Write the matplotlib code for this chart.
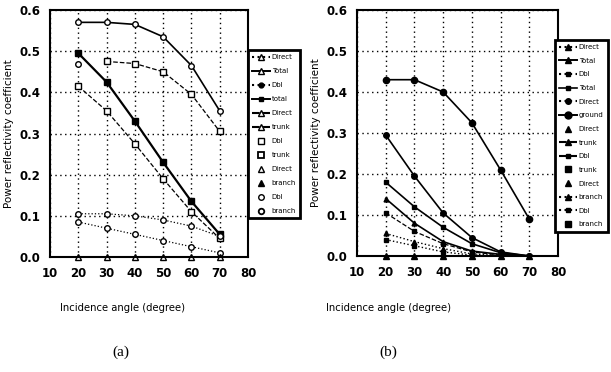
import numpy as np
import matplotlib
matplotlib.use('Agg')
import matplotlib.pyplot as plt
from matplotlib.lines import Line2D

# ── data ──
angles = [20, 30, 40, 50, 60, 70]

# panel (a)
a_top     = [0.570, 0.570, 0.565, 0.535, 0.465, 0.355]
a_dash_hi = [0.470, 0.475, 0.470, 0.450, 0.395, 0.305]
a_thick   = [0.495, 0.425, 0.330, 0.230, 0.135, 0.055]
a_dash_lo = [0.415, 0.355, 0.275, 0.190, 0.110, 0.045]
a_dot_hi  = [0.105, 0.105, 0.100, 0.090, 0.075, 0.050]
a_dot_lo  = [0.085, 0.070, 0.055, 0.040, 0.025, 0.010]
a_zero    = [0.0, 0.0, 0.0, 0.0, 0.0, 0.0]

# panel (b)
b_ground  = [0.430, 0.430, 0.400, 0.325, 0.210, 0.090]
b_total   = [0.295, 0.195, 0.105, 0.045, 0.010, 0.000]
b_dbl     = [0.180, 0.120, 0.070, 0.030, 0.008, 0.000]
b_trunk   = [0.140, 0.080, 0.035, 0.012, 0.004, 0.000]
b_dbltr   = [0.105, 0.060, 0.030, 0.010, 0.002, 0.000]
b_branch  = [0.055, 0.035, 0.018, 0.005, 0.001, 0.000]
b_dblbr   = [0.040, 0.025, 0.010, 0.002, 0.000, 0.000]
b_zero    = [0.0, 0.0, 0.0, 0.0, 0.0, 0.0]

legend_a = ['Direct', 'Total', 'Dbl', 'total', 'Direct', 'trunk',
            'Dbl', 'trunk', 'Direct', 'branch', 'Dbl', 'branch']
legend_b = ['Direct', 'Total', 'Dbl', 'Total', 'Direct', 'ground',
            'Direct', 'trunk', 'Dbl', 'trunk', 'Direct', 'branch', 'Dbl', 'branch']

fig = plt.figure(figsize=(6.11, 3.72), dpi=100)
ax_a = fig.add_axes([50/611, 1-257/372, 198/611, 247/372])
ax_b = fig.add_axes([357/611, 1-256/372, 201/611, 246/372])

k = dict(color='black')

# ── panel (a) ──
ax_a.plot(angles, a_top, '-', lw=1.2, marker='o', ms=4, mfc='white', **k)
ax_a.plot(angles[1:], a_dash_hi[1:], '--', lw=0.9, marker='s', ms=4, mfc='white', **k)
ax_a.plot(angles[:1], a_dash_hi[:1], 'o', ms=4, mfc='white', **k)
ax_a.plot(angles, a_thick, '-', lw=1.6, marker='s', ms=4, **k)
ax_a.plot(angles, a_dash_lo, '--', lw=0.9, marker='s', ms=4, mfc='white', **k)
ax_a.plot(angles, a_dot_hi, ':', lw=0.9, marker='o', ms=4, mfc='white', **k)
ax_a.plot(angles, a_dot_lo, ':', lw=0.9, marker='o', ms=4, mfc='white', **k)
ax_a.plot(angles, a_zero, '^', ms=4, mfc='white', clip_on=False, **k)

# ── panel (b) ──
ax_b.plot(angles, b_ground, '-', lw=1.2, marker='o', ms=4.5, **k)
ax_b.plot(angles, b_total, '-', lw=1.2, marker='o', ms=4, **k)
ax_b.plot(angles, b_dbl, '-', lw=1.2, marker='s', ms=3.5, **k)
ax_b.plot(angles, b_trunk, '-', lw=1.2, marker='^', ms=3.5, **k)
ax_b.plot(angles, b_dbltr, '--', lw=0.9, marker='s', ms=3.5, **k)
ax_b.plot(angles, b_branch, ':', lw=1.0, marker='^', ms=3.5, **k)
ax_b.plot(angles, b_dblbr, ':', lw=1.0, marker='s', ms=3.5, **k)
ax_b.plot(angles, b_zero, '^', ms=4, clip_on=False, **k)

for ax in (ax_a, ax_b):
    ax.set_xlim(10, 80)
    ax.set_ylim(0, 0.6)
    ax.set_xticks(range(10, 81, 10))
    ax.set_yticks(np.arange(0, 0.61, 0.1))
    ax.set_yticklabels([f'{v:.1f}' for v in np.arange(0, 0.61, 0.1)])
    ax.grid(True, color='black', linestyle=(0, (1, 2.5)), linewidth=1.0)
    ax.tick_params(length=0, pad=7, labelsize=8.5)
    for lab in ax.get_xticklabels() + ax.get_yticklabels():
        lab.set_fontweight('bold')
    for s in ax.spines.values():
        s.set_linewidth(1.5)
    ax.set_ylabel('Power reflectivity coefficient', fontsize=7.5, labelpad=4)

# ── legends (one handle per line of label text) ──
h_a = [
    Line2D([], [], ls=':', marker='^', mfc='white', ms=4, **k),
    Line2D([], [], ls='-', lw=1.4, marker='^', mfc='white', ms=4, **k),
    Line2D([], [], ls=':', marker='o', ms=3.5, **k),
    Line2D([], [], ls='-', lw=1.4, marker='s', ms=3.5, **k),
    Line2D([], [], ls='--', marker='^', mfc='white', ms=4, **k),
    Line2D([], [], ls='--', marker='^', mfc='white', ms=4, **k),
    Line2D([], [], ls='none', marker='s', mfc='white', ms=4, **k),
    Line2D([], [], ls='none', marker='s', mfc='white', ms=4, mew=1.3, **k),
    Line2D([], [], ls='none', marker='^', mfc='white', ms=4, **k),
    Line2D([], [], ls='none', marker='^', ms=4, **k),
    Line2D([], [], ls='none', marker='o', mfc='white', ms=4, **k),
    Line2D([], [], ls='none', marker='o', mfc='white', ms=4, mew=1.3, **k),
]
h_b = [
    Line2D([], [], ls=':', marker='^', ms=4, **k),
    Line2D([], [], ls='-', lw=1.4, marker='^', ms=4, **k),
    Line2D([], [], ls=':', marker='s', ms=3.5, **k),
    Line2D([], [], ls='-', lw=1.2, marker='s', ms=3.5, **k),
    Line2D([], [], ls=':', marker='o', ms=4, **k),
    Line2D([], [], ls='-', lw=1.4, marker='o', ms=5, **k),
    Line2D([], [], ls='none', marker='^', ms=4, **k),
    Line2D([], [], ls='--', marker='^', ms=4.5, **k),
    Line2D([], [], ls='--', marker='s', ms=3.5, **k),
    Line2D([], [], ls='none', marker='s', ms=4, **k),
    Line2D([], [], ls='none', marker='^', ms=4, **k),
    Line2D([], [], ls=':', marker='^', ms=4.5, **k),
    Line2D([], [], ls=':', marker='s', ms=3.5, **k),
    Line2D([], [], ls='none', marker='s', ms=4, **k),
]

for h, labels, x0, y0, sp in ((h_a, legend_a, 248, 50, 1.15), (h_b, legend_b, 555, 40, 1.1)):
    leg = fig.legend(h, labels, loc='upper left', bbox_to_anchor=(x0/611, 1-y0/372),
                     borderaxespad=0, fontsize=5, frameon=True, fancybox=False,
                     handlelength=2.6, handletextpad=0.2, labelspacing=sp,
                     borderpad=0.6)
    leg.get_frame().set_edgecolor('black')
    leg.get_frame().set_linewidth(2.0)
    leg.get_frame().set_alpha(1)

# ── x labels and panel captions ──
fig.text(123/611, 1-308/372, 'Incidence angle (degree)', ha='center', va='center', fontsize=7.2)
fig.text(389/611, 1-308/372, 'Incidence angle (degree)', ha='center', va='center', fontsize=7.2)
fig.text(121/611, 1-352/372, '(a)', ha='center', va='center', fontsize=11, family='Liberation Serif')
fig.text(388/611, 1-352/372, '(b)', ha='center', va='center', fontsize=11, family='Liberation Serif')

fig.savefig('out.png', dpi=100)
